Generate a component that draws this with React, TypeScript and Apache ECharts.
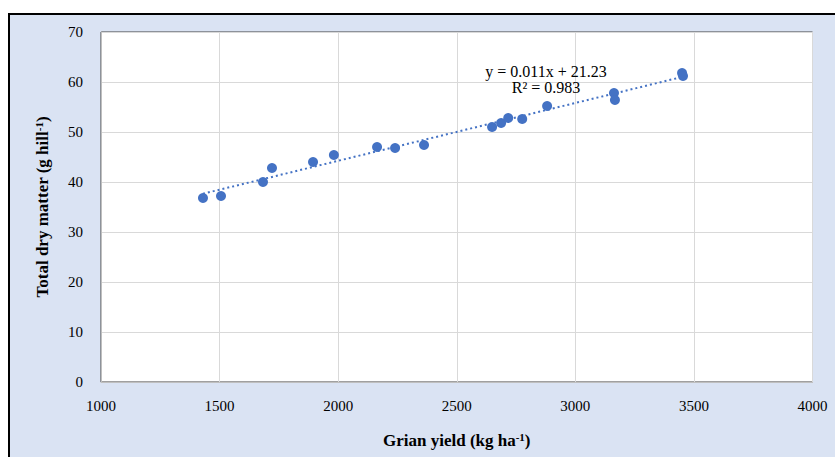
import React, { useEffect, useRef } from "react";
import * as echarts from "echarts";

const grainYield = [1430, 1506, 1683, 1721, 1894, 1982, 2164, 2240, 2362, 2649, 2687, 2717, 2776, 2881, 3163, 3167, 3450, 3454];
const dryMatter = [36.8, 37.2, 40.0, 42.8, 44.0, 45.4, 47.0, 46.8, 47.4, 51.0, 51.8, 52.8, 52.6, 55.2, 57.8, 56.4, 61.8, 61.2];
const equationText = "y = 0.011x + 21.23";
const r2Text = "R\u00b2 = 0.983";

function regression(xs: number[], ys: number[]) {
  const n = xs.length;
  const mx = xs.reduce((a, b) => a + b, 0) / n;
  const my = ys.reduce((a, b) => a + b, 0) / n;
  let sxy = 0;
  let sxx = 0;
  for (let i = 0; i < n; i++) {
    sxy += (xs[i] - mx) * (ys[i] - my);
    sxx += (xs[i] - mx) * (xs[i] - mx);
  }
  const slope = sxy / sxx;
  return { slope, intercept: my - slope * mx };
}

export default function App() {
  const ref = useRef<HTMLDivElement>(null);
  useEffect(() => {
    if (!ref.current) return;
    const chart = echarts.init(ref.current, undefined, { renderer: "svg" });
    const { slope, intercept } = regression(grainYield, dryMatter);
    const xMin = Math.min(...grainYield);
    const xMax = Math.max(...grainYield);
    const trend = [
      [xMin, slope * xMin + intercept],
      [xMax, slope * xMax + intercept],
    ];
    const font = "'Liberation Serif', 'Times New Roman', serif";
    const rich = {
      a: { fontFamily: font, fontWeight: "bold", fontSize: 17, color: "#000" },
      s: { fontFamily: font, fontWeight: "bold", fontSize: 11, color: "#000", verticalAlign: "top", padding: [0, 0, 7, 0] },
    };
    chart.setOption({
      animation: false,
      graphic: [
        {
          type: "rect",
          z: -10,
          shape: { x: 9, y: 14, width: 840, height: 460 },
          style: { fill: "#dae3f3", stroke: "#000", lineWidth: 2 },
        },
        {
          type: "text",
          x: 546,
          y: 71,
          z: 10,
          style: { text: equationText, font: `16px ${font}`, fill: "#000", align: "center", verticalAlign: "middle" },
        },
        {
          type: "text",
          x: 546,
          y: 87,
          z: 10,
          style: { text: r2Text, font: `16px ${font}`, fill: "#000", align: "center", verticalAlign: "middle" },
        },
      ],
      grid: {
        left: 101,
        top: 32,
        right: 22.5,
        bottom: 75,
        show: true,
        backgroundColor: "#fff",
        borderColor: "#404040",
        borderWidth: 1,
      },
      xAxis: {
        type: "value",
        min: 1000,
        max: 4000,
        interval: 500,
        name: "{a|Grian yield (kg ha}{s|-1}{a|)}",
        nameLocation: "middle",
        nameGap: 49,
        nameTextStyle: { rich },
        axisLine: { show: true, lineStyle: { color: "#bfbfbf" } },
        axisTick: { show: false },
        splitLine: { show: true, lineStyle: { color: "#d9d9d9" } },
        axisLabel: {
          fontFamily: font,
          fontSize: 15,
          color: "#000",
          margin: 16,
          formatter: (v: number) => String(v),
        },
      },
      yAxis: {
        type: "value",
        min: 0,
        max: 70,
        interval: 10,
        name: "{a|Total dry matter (g hill}{s|-1}{a|)}",
        nameLocation: "middle",
        nameGap: 50,
        nameRotate: 90,
        nameTextStyle: { rich },
        axisLine: { show: true, lineStyle: { color: "#bfbfbf" } },
        axisTick: { show: false },
        splitLine: { show: true, lineStyle: { color: "#d9d9d9" } },
        axisLabel: { fontFamily: font, fontSize: 15, color: "#000", margin: 18 },
      },
      series: [
        {
          type: "line",
          data: trend,
          symbol: "none",
          lineStyle: { color: "#4472c4", width: 2, type: [2, 3] },
          z: 2,
        },
        {
          type: "scatter",
          data: grainYield.map((x, i) => [x, dryMatter[i]]),
          symbol: "circle",
          symbolSize: 10,
          itemStyle: { color: "#4472c4", opacity: 1 },
          z: 3,
        },
      ],
    });
    return () => chart.dispose();
  }, []);
  return (
    <div
      ref={ref}
      style={{ position: "absolute", left: 0, top: 0, width: 835, height: 457 }}
    />
  );
}
